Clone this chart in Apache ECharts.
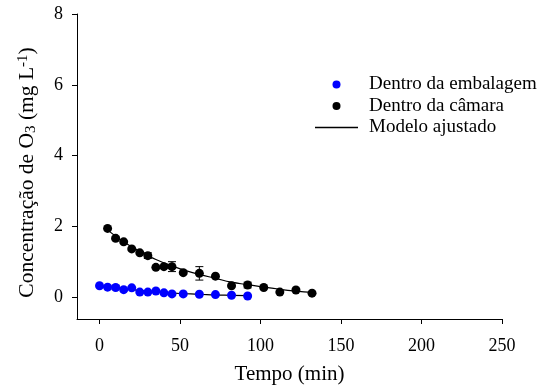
<!DOCTYPE html>
<html><head><meta charset="utf-8">
<script src="https://cdn.jsdelivr.net/npm/echarts@6/dist/echarts.min.js"></script>
<style>html,body{margin:0;padding:0;background:#fff}#c{width:545px;height:391px}</style>
</head><body><div id="c"></div>
<script>
// Data
const embTime = [0, 5, 10, 15, 20, 25, 30, 35, 40, 45, 52, 62, 72, 82, 92];
const embConc = [0.32, 0.28, 0.27, 0.21, 0.26, 0.14, 0.14, 0.17, 0.12, 0.09, 0.09, 0.08, 0.07, 0.05, 0.03];
const embErr  = [0, 0, 0.06, 0, 0, 0, 0, 0, 0, 0, 0, 0, 0, 0, 0];

const camTime = [5, 10, 15, 20, 25, 30, 35, 40, 45, 52, 62, 72, 82, 92, 102, 112, 122, 132];
const camConc = [1.94, 1.66, 1.56, 1.36, 1.25, 1.17, 0.84, 0.86, 0.86, 0.69, 0.67, 0.59, 0.32, 0.34, 0.27, 0.14, 0.20, 0.11];
const camErr  = [0, 0.04, 0, 0, 0, 0.08, 0, 0, 0.14, 0, 0.19, 0, 0, 0.08, 0, 0, 0, 0];

// Fitted model curves
const fitEmbTime = [0, 10, 20, 30, 40, 50, 62, 72, 82, 92];
const fitEmbConc = [0.30, 0.26, 0.21, 0.17, 0.13, 0.10, 0.08, 0.06, 0.05, 0.04];
const fitCamTime = [5, 10, 15, 20, 25, 30, 35, 40, 45, 52, 62, 72, 82, 92, 102, 112, 122, 132];
const fitCamConc = [1.90, 1.72, 1.56, 1.42, 1.29, 1.17, 1.06, 0.97, 0.88, 0.77, 0.64, 0.53, 0.42, 0.35, 0.28, 0.22, 0.17, 0.13];

const xTicks = [0, 50, 100, 150, 200, 250];
const yTicks = [0, 2, 4, 6, 8];

const FONT = '"Liberation Serif","Times New Roman",serif';
const zip = (a, b) => a.map((v, i) => [v, b[i]]);
const errData = (t, c, e) => t.map((v, i) => [v, c[i] - e[i], c[i] + e[i]]).filter((d, i) => e[i] > 0);

function errRender(params, api) {
  const x = api.value(0);
  const lo = api.coord([x, api.value(1)]);
  const hi = api.coord([x, api.value(2)]);
  const w = 4;
  const style = { stroke: '#000', lineWidth: 1 };
  return {
    type: 'group',
    children: [
      { type: 'line', shape: { x1: lo[0], y1: lo[1], x2: hi[0], y2: hi[1] }, style },
      { type: 'line', shape: { x1: lo[0] - w, y1: lo[1], x2: lo[0] + w, y2: lo[1] }, style },
      { type: 'line', shape: { x1: hi[0] - w, y1: hi[1], x2: hi[0] + w, y2: hi[1] }, style }
    ]
  };
}

const chart = echarts.init(document.getElementById('c'), null, { renderer: 'canvas' });
chart.setOption({
  animation: false,
  backgroundColor: '#fff',
  textStyle: { fontFamily: FONT },
  grid: { left: 77, right: 43, top: 14, bottom: 72, containLabel: false },
  legend: {
    orient: 'vertical',
    left: 310, top: 70,
    itemWidth: 43, itemHeight: 8, itemGap: 2.5,
    data: [
      { name: 'Dentro da embalagem', icon: 'circle' },
      { name: 'Dentro da câmara', icon: 'circle' },
      { name: 'Modelo ajustado', icon: 'path://M0,0L43,0L43,1.5L0,1.5Z', itemStyle: { color: '#000' } }
    ],
    textStyle: { fontFamily: FONT, fontSize: 19, color: '#000', padding: [0, 0, 0, 6] }
  },
  xAxis: {
    type: 'value', min: -14, max: 250,
    axisLine: { onZero: false, lineStyle: { color: '#000', width: 1 } },
    axisTick: { customValues: xTicks, length: 5, lineStyle: { color: '#000' } },
    axisLabel: { customValues: xTicks, margin: 18, fontFamily: FONT, fontSize: 18, color: '#000' },
    splitLine: { show: false },
    name: 'Tempo (min)', nameLocation: 'middle', nameGap: 45,
    nameTextStyle: { fontFamily: FONT, fontSize: 21, color: '#000' }
  },
  yAxis: {
    type: 'value', min: -0.62, max: 8,
    axisLine: { onZero: false, lineStyle: { color: '#000', width: 1 } },
    axisTick: { customValues: yTicks, length: 5, lineStyle: { color: '#000' } },
    axisLabel: { customValues: yTicks, margin: 14, fontFamily: FONT, fontSize: 18, color: '#000' },
    splitLine: { show: false },
    name: 'Concentração de O{sub|3} (mg L{sup|-1})', nameLocation: 'middle', nameGap: 38, nameRotate: 90,
    nameTextStyle: {
      fontFamily: FONT, fontSize: 21.5, color: '#000', padding: [0, 12, 0, 0],
      rich: {
        sub: { fontFamily: FONT, fontSize: 15, color: '#000', verticalAlign: 'bottom', padding: [8, 0, 0, 0] },
        sup: { fontFamily: FONT, fontSize: 15, color: '#000', verticalAlign: 'top', padding: [0, 0, 8, 0] }
      }
    }
  },
  series: [
    { name: 'Modelo ajustado', type: 'line', data: zip(fitCamTime, fitCamConc), showSymbol: false, smooth: true,
      lineStyle: { color: '#000', width: 1.2 }, itemStyle: { color: '#000' }, z: 2 },
    { name: 'Modelo ajustado', type: 'line', data: zip(fitEmbTime, fitEmbConc), showSymbol: false, smooth: true,
      lineStyle: { color: '#000', width: 1.2 }, itemStyle: { color: '#000' }, z: 2 },
    { type: 'custom', renderItem: errRender, data: errData(camTime, camConc, camErr), z: 3, silent: true },
    { type: 'custom', renderItem: errRender, data: errData(embTime, embConc, embErr), z: 3, silent: true },
    { name: 'Dentro da embalagem', type: 'scatter', data: zip(embTime, embConc), symbol: 'circle', symbolSize: 9,
      itemStyle: { color: '#0000ff', opacity: 1 }, z: 4 },
    { name: 'Dentro da câmara', type: 'scatter', data: zip(camTime, camConc), symbol: 'circle', symbolSize: 9,
      itemStyle: { color: '#000', opacity: 1 }, z: 4 }
  ]
});
</script>
</body></html>
